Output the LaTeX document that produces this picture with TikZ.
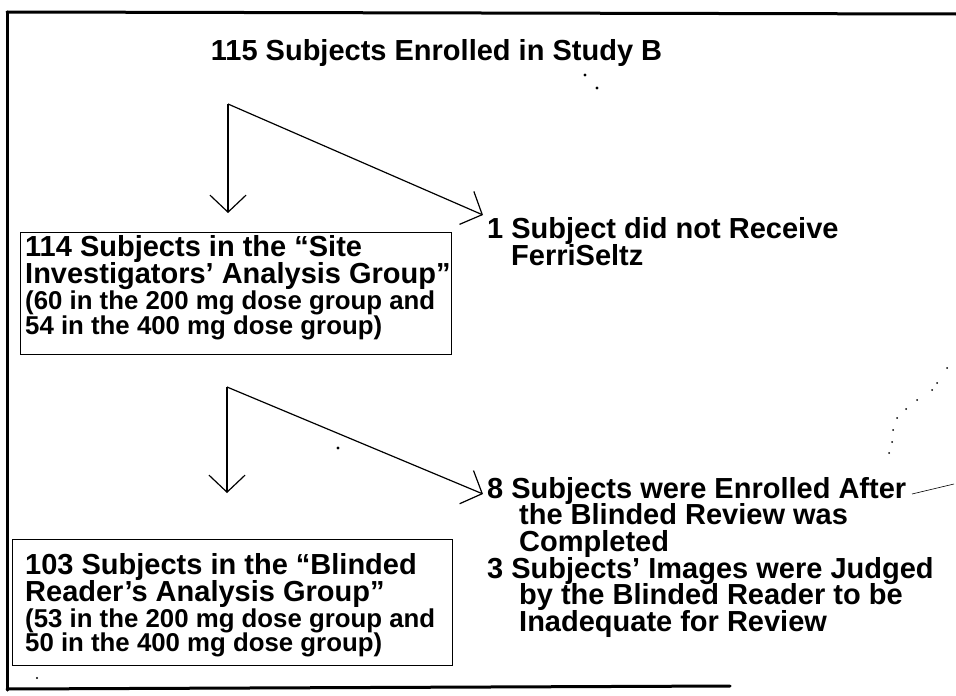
\documentclass[tikz,border=0pt]{standalone}
\usepackage{fontspec}
\setmainfont{Liberation Sans}
\usetikzlibrary{arrows.meta}
\begin{document}
\begin{tikzpicture}[x=1pt,y=-1pt,
  frameline/.style={line width=3pt, line cap=round},
  boxstyle/.style={draw, line width=1.4pt, inner sep=0pt, anchor=north west},
  arr/.style={line width=1.2pt, -{Straight Barb[length=17pt,width=36pt,line width=1.2pt]}},
  big/.style={font=\bfseries\fontsize{29}{29}\selectfont, anchor=base west, inner sep=0pt, text height=21pt, text depth=5pt},
  small/.style={font=\bfseries\fontsize{25.8}{25}\selectfont, anchor=base west, inner sep=0pt, text height=19pt, text depth=5pt},
  speck/.style={fill=black}]
\useasboundingbox (0,0) rectangle (956,696);

% frame
\draw[frameline] (7,12) -- (956,14);
\draw[frameline] (7,12) -- (7,690);
\draw[frameline] (7,689) -- (730,686);

% title
\node[big, anchor=base] (title) at (436.5,60.5) {115 Subjects Enrolled in Study B};

% box 1
\node[boxstyle, minimum width=431pt, minimum height=122pt] (box1) at (20,232) {};
\node[big] (b1l1) at (25,256) {114 Subjects in the “Site};
\node[big] (b1l2) at (25,283) {Investigators’ Analysis Group”};
\node[small] (b1l3) at (25,309) {(60 in the 200 mg dose group and};
\node[small] (b1l4) at (25,334) {54 in the 400 mg dose group)};

% box 2
\node[boxstyle, minimum width=440pt, minimum height=126pt] (box2) at (12,539) {};
\node[big] (b2l1) at (25,574) {103 Subjects in the “Blinded};
\node[big] (b2l2) at (25,601) {Reader’s Analysis Group”};
\node[small] (b2l3) at (25,627) {(53 in the 200 mg dose group and};
\node[small] (b2l4) at (25,651) {50 in the 400 mg dose group)};

% right texts
\node[big] (r1a) at (487,238) {1 Subject did not Receive};
\node[big] (r1b) at (511,265) {FerriSeltz};
\node[big] (r2a) at (487,498) {8 Subjects were Enrolled After};
\node[big] (r2b) at (519,524.5) {the Blinded Review was};
\node[big] (r2c) at (519,551) {Completed};
\node[big] (r3a) at (487,578) {3 Subjects’ Images were Judged};
\node[big] (r3b) at (519,604.5) {by the Blinded Reader to be};
\node[big] (r3c) at (519,631) {Inadequate for Review};

% arrows
\coordinate (k1) at (228,104);
\coordinate (d1) at (483,215);
\draw[arr] (k1) -- ([yshift=19pt]k1 |- box1.north);
\draw[arr] (k1) -- (d1);

\coordinate (k2) at (227,387);
\coordinate (d2) at (483,494);
\draw[arr] (k2) -- ([yshift=46pt]k2 |- box2.north);
\draw[arr] (k2) -- (d2);

% scan specks
\fill[speck] (585,75) circle (1.6pt);
\fill[speck] (597,88) circle (1.6pt);
\fill[speck] (338,448) circle (1.6pt);
\fill[speck] (37,678) circle (1.2pt);
\draw[line width=0.6pt] (912,494) -- (954,484);
\foreach \p in {(947,368),(937,383),(932,390),(917,400),(906,409),(897,418),(893,430),(892,442),(889,453)}
  \fill[speck] \p circle (1pt);
\end{tikzpicture}
\end{document}
